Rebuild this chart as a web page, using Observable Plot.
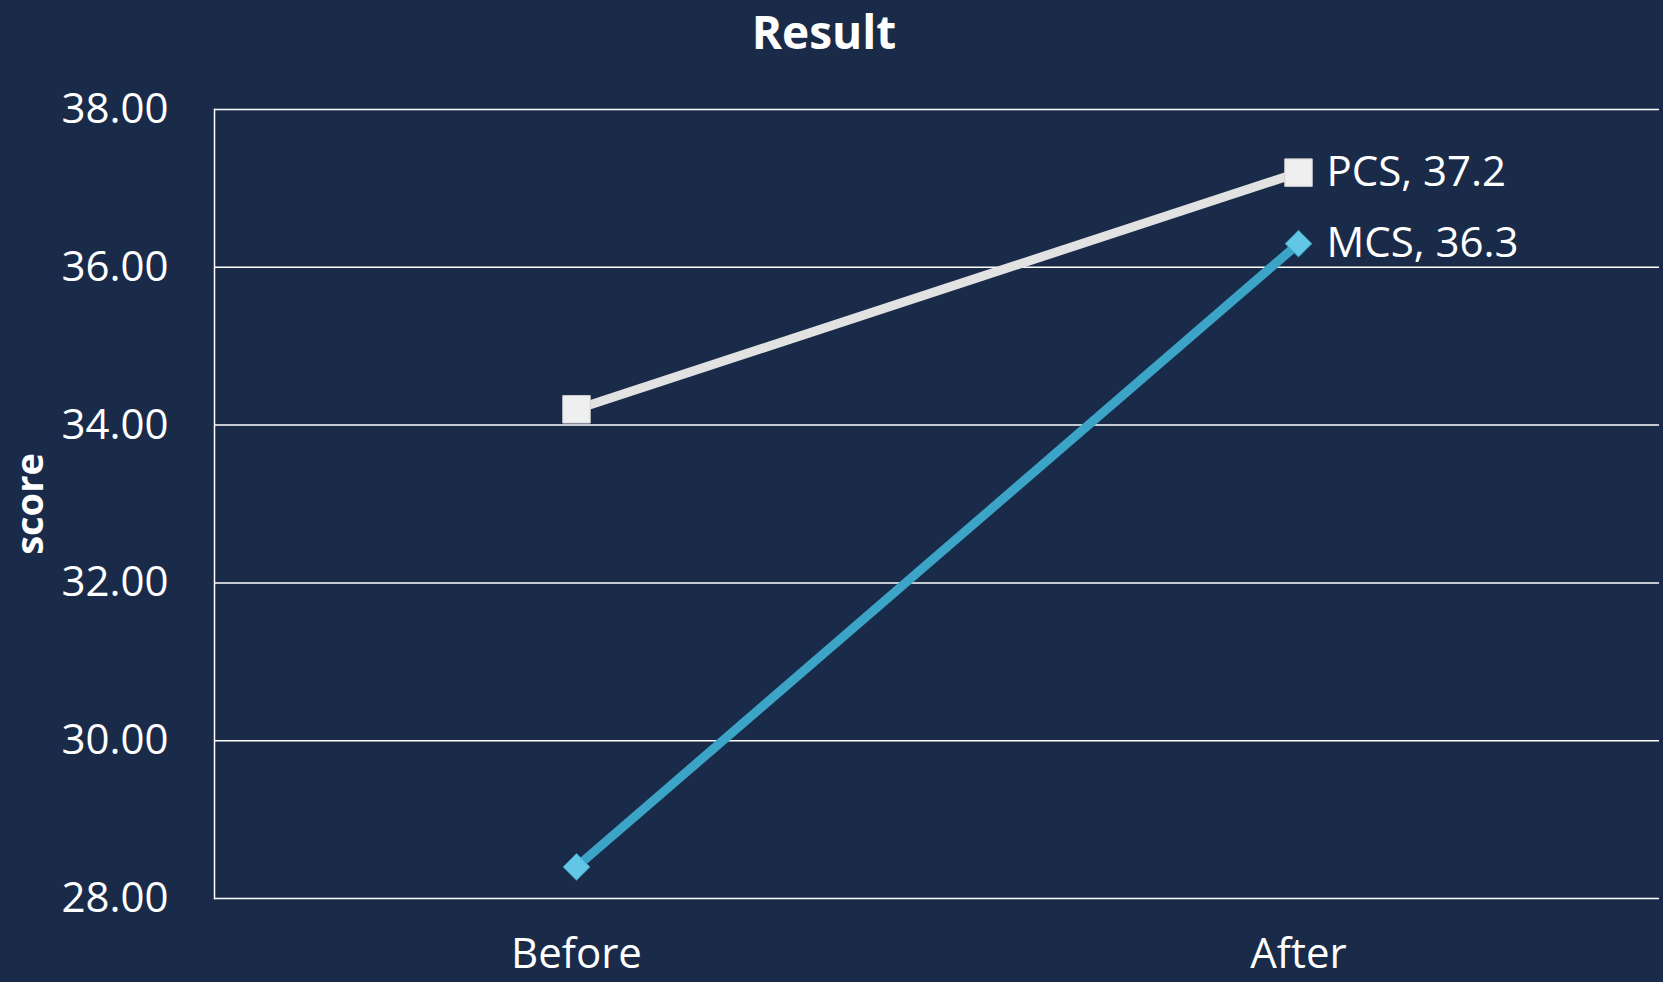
<!DOCTYPE html>
<html>
<head>
<meta charset="utf-8">
<script src="https://cdn.jsdelivr.net/npm/d3@7"></script>
<script src="https://cdn.jsdelivr.net/npm/@observablehq/plot@0.6"></script>
<style>
  html, body { margin: 0; padding: 0; background: #1a2b4a; overflow: hidden; }
  #title { height: 62px; line-height: 62px; text-align: center; padding-right: 15px; overflow: visible;
           font-family: "Open Sans", sans-serif; font-weight: bold; font-size: 46px; color: #ffffff; }
  #chart svg { display: block; }
</style>
</head>
<body>
<div id="title">Result</div>
<div id="chart"></div>
<script>
const periods = ["Before", "After"];
const seriesNames = ["PCS", "MCS"];
const pcsValues = [34.2, 37.2];
const mcsValues = [28.4, 36.3];
const yTicks = [28, 30, 32, 34, 36, 38];
const yLabel = "score";

const rows = [];
periods.forEach((p, i) => {
  rows.push({period: p, series: "PCS", value: pcsValues[i]});
  rows.push({period: p, series: "MCS", value: mcsValues[i]});
});
const lastPeriod = periods[periods.length - 1];

const chart = Plot.plot({
  width: 1663,
  height: 920,
  marginTop: 47,
  marginBottom: 84,
  marginLeft: 214,
  marginRight: 4,
  style: {background: "transparent", color: "#ffffff", fontFamily: "Open Sans, sans-serif", fontSize: "42px"},
  x: {type: "point", domain: periods, padding: 0.5},
  y: {domain: [28, 38]},
  color: {domain: seriesNames, range: ["#e2e2e2", "#3ca4c6"]},
  marks: [
    Plot.ruleY(yTicks, {stroke: "#ffffff", strokeWidth: 1.5}),
    Plot.frame({anchor: "left", stroke: "#ffffff", strokeWidth: 1.5}),
    Plot.line(rows, {x: "period", y: "value", z: "series", stroke: "series", strokeWidth: 9, strokeLinecap: "butt"}),
    Plot.dot(rows.filter(d => d.series === "PCS"), {x: "period", y: "value", symbol: "square", r: 15.5, fill: "#efefef", stroke: "#d2d2d2", strokeWidth: 1}),
    Plot.dot(rows.filter(d => d.series === "MCS"), {x: "period", y: "value", symbol: "diamond2", r: 12, fill: "#62c6e6", stroke: "#3a9fc0", strokeWidth: 1}),
    Plot.text(rows.filter(d => d.period === lastPeriod), {x: "period", y: "value", text: d => `${d.series}, ${d.value}`, textAnchor: "start", dx: 28, fill: "#ffffff", fontSize: 42}),
    Plot.axisY({ticks: yTicks, tickFormat: d => d.toFixed(2), tickSize: 0, tickPadding: 46, fontSize: 42, label: null}),
    Plot.axisX({tickSize: 0, tickPadding: 40, fontSize: 42, label: null}),
    Plot.text([yLabel], {frameAnchor: "left", textAnchor: "middle", rotate: -90, dx: -184, fontWeight: "bold", fontSize: 38, fill: "#ffffff"})
  ]
});
document.getElementById("chart").appendChild(chart);
</script>
</body>
</html>
